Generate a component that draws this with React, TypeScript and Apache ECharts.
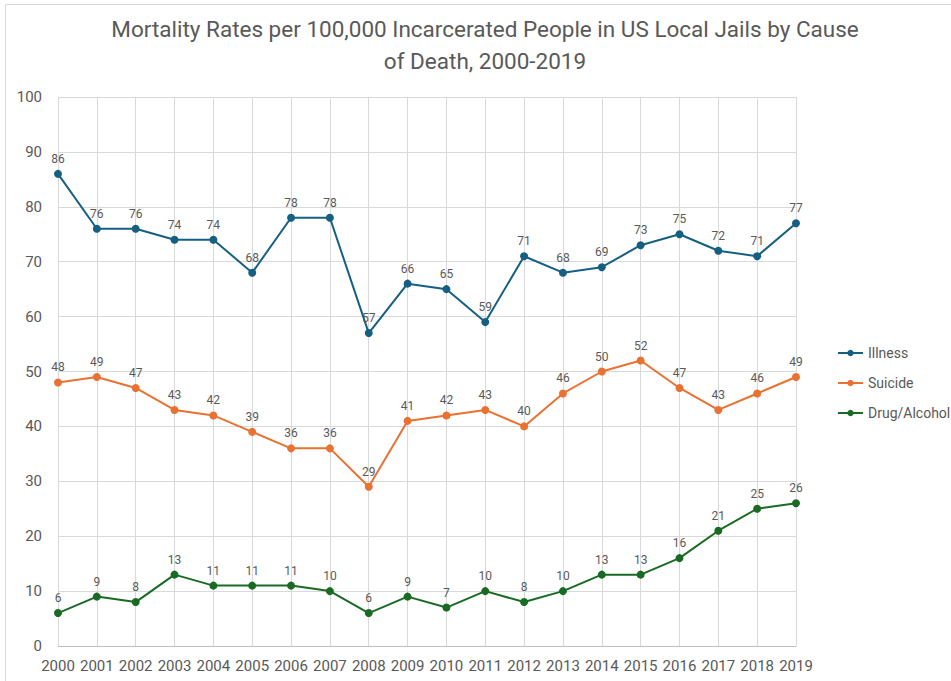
import React, { useEffect, useRef } from "react";
import * as echarts from "echarts";

const years = ["2000","2001","2002","2003","2004","2005","2006","2007","2008","2009","2010","2011","2012","2013","2014","2015","2016","2017","2018","2019"];
const illness = [86,76,76,74,74,68,78,78,57,66,65,59,71,68,69,73,75,72,71,77];
const suicide = [48,49,47,43,42,39,36,36,29,41,42,43,40,46,50,52,47,43,46,49];
const drugAlcohol = [6,9,8,13,11,11,11,10,6,9,7,10,8,10,13,13,16,21,25,26];

const FONT = "Roboto";

export default function App() {
  const ref = useRef<HTMLDivElement>(null);
  useEffect(() => {
    document.body.style.margin = "0";
    const chart = echarts.init(ref.current!, null, { renderer: "svg" });
    const mk = (name: string, data: number[], color: string) => ({
      name,
      type: "line",
      data,
      symbol: "circle",
      symbolSize: 8,
      lineStyle: { color, width: 2 },
      itemStyle: { color },
      label: { show: true, position: "top", distance: 5, color: "#595959", fontSize: 12, fontFamily: FONT },
    });
    chart.setOption({
      animation: false,
      backgroundColor: "#fff",
      textStyle: { fontFamily: FONT },
      title: {
        text: "Mortality Rates per 100,000 Incarcerated People in US Local Jails by Cause\nof Death, 2000-2019",
        left: 480,
        textAlign: "center",
        top: 8,
        textStyle: { fontSize: 22.5, fontWeight: "normal", color: "#595959", lineHeight: 32, fontFamily: FONT },
      },
      graphic: [
        { type: "rect", shape: { x: 5.5, y: 4.5, width: 1000, height: 1000 }, style: { fill: "none", stroke: "#d9d9d9", lineWidth: 1 }, silent: true, z: -1 },
      ],
      legend: {
        orient: "vertical",
        left: 832,
        top: 341,
        itemWidth: 25,
        itemHeight: 8,
        itemGap: 16,
        textStyle: { fontSize: 14, color: "#595959", fontFamily: FONT },
        data: ["Illness", "Suicide", "Drug/Alcohol"],
      },
      grid: { left: 58, right: 155, top: 97, bottom: 35, containLabel: false },
      xAxis: {
        type: "category",
        data: years,
        boundaryGap: false,
        axisLine: { lineStyle: { color: "#bfbfbf" } },
        axisTick: { show: false },
        axisLabel: { fontSize: 15, color: "#595959", margin: 12, interval: 0 },
        splitLine: { show: true, interval: 0, lineStyle: { color: "#d9d9d9" } },
      },
      yAxis: {
        type: "value",
        min: 0,
        max: 100,
        interval: 10,
        axisLine: { show: false },
        axisTick: { show: false },
        axisLabel: { fontSize: 15, color: "#595959", margin: 16 },
        splitLine: { lineStyle: { color: "#d9d9d9" } },
      },
      series: [
        mk("Illness", illness, "#156082"),
        mk("Suicide", suicide, "#E97132"),
        mk("Drug/Alcohol", drugAlcohol, "#196B24"),
      ],
    });
    return () => chart.dispose();
  }, []);
  return <div ref={ref} style={{ width: 951, height: 681 }} />;
}
